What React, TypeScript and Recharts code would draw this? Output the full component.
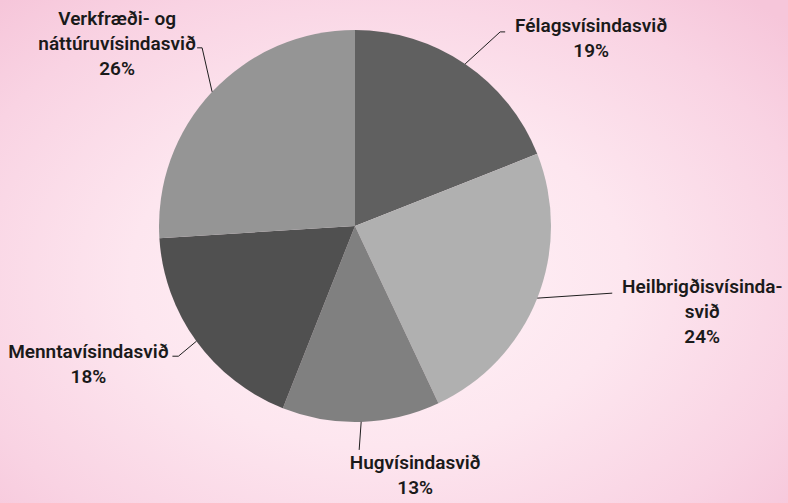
import { PieChart, Pie, Cell } from "recharts";

// Skipting eftir fræðasviðum (%)
const CATEGORIES = [
  "Félagsvísindasvið",
  "Heilbrigðisvísindasvið",
  "Hugvísindasvið",
  "Menntavísindasvið",
  "Verkfræði- og náttúruvísindasvið",
];
const SHARES = [19, 24, 13, 18, 26];

// hvernig nafnið er brotið í línur á merkinu
const LABEL_LINES = [
  ["Félagsvísindasvið"],
  ["Heilbrigðisvísinda-", "svið"],
  ["Hugvísindasvið"],
  ["Menntavísindasvið"],
  ["Verkfræði- og", "náttúruvísindasvið"],
];

const COLORS = ["#606060", "#b0b0b0", "#808080", "#505050", "#959595"];

// leiðarlínur: beygja, endi og miðja texta, miðað við brún sneiðar
const LABEL_LAYOUT = [
  { elbow: [35, -32], end: [40, -32], text: [126, -39] },
  { elbow: [75, -5], end: [75, -5], text: [165, -12] },
  { elbow: [-2, 28], end: [-2, 28], text: [54, 40] },
  { elbow: [-18, 15], end: [-24, 15], text: [-108, 10] },
  { elbow: [-10, -44], end: [-15, -44], text: [-95, -73] },
];

const data = CATEGORIES.map((name, i) => ({ name, value: SHARES[i] }));

const RADIAN = Math.PI / 180;
const FONT = "Roboto, 'Noto Sans', sans-serif";

const renderLabel = (props: any) => {
  const { cx, cy, midAngle, outerRadius, index, value } = props;
  const ex = cx + outerRadius * Math.cos(-midAngle * RADIAN);
  const ey = cy + outerRadius * Math.sin(-midAngle * RADIAN);
  const lay = LABEL_LAYOUT[index];
  const lines = [...LABEL_LINES[index], `${value}%`];
  const tx = ex + lay.text[0];
  const ty = ey + lay.text[1];
  return (
    <g key={`lbl-${index}`}>
      <polyline
        points={`${ex},${ey} ${ex + lay.elbow[0]},${ey + lay.elbow[1]} ${ex + lay.end[0]},${ey + lay.end[1]}`}
        fill="none"
        stroke="#1f1f1f"
        strokeWidth={1}
      />
      <text
        x={tx}
        y={ty}
        textAnchor="middle"
        fill="#1a1a1a"
        fontFamily={FONT}
        fontWeight={600}
        fontSize={19}
      >
        {lines.map((l, i) => (
          <tspan key={i} x={tx} dy={i === 0 ? "0.35em" : 25}>
            {l}
          </tspan>
        ))}
      </text>
    </g>
  );
};

export default function App() {
  return (
    <div
      style={{
        position: "absolute",
        left: 0,
        top: 0,
        width: 788,
        height: 503,
        background:
          "radial-gradient(ellipse 70% 75% at 48% 55%, #fff3f7 0%, #fde6ef 45%, #f9d3e3 80%, #f6c6da 100%)",
      }}
    >
      <PieChart width={788} height={503} margin={{ top: 0, right: 0, bottom: 0, left: 0 }}>
        <Pie
          data={data}
          dataKey="value"
          cx={355}
          cy={226}
          outerRadius={196}
          startAngle={90}
          endAngle={-270}
          stroke="none"
          label={renderLabel}
          labelLine={false}
          isAnimationActive={false}
        >
          {data.map((entry, index) => (
            <Cell key={`cell-${index}`} fill={COLORS[index]} />
          ))}
        </Pie>
      </PieChart>
    </div>
  );
}
